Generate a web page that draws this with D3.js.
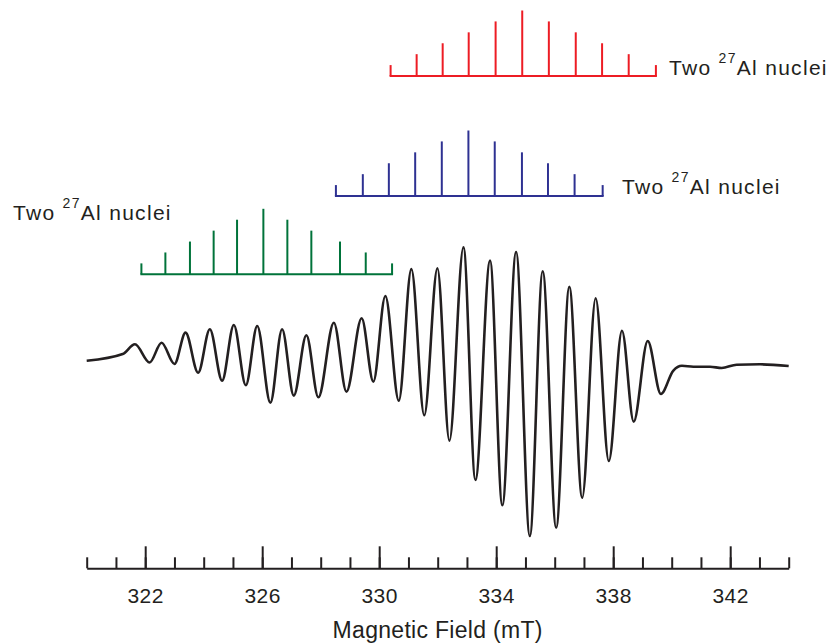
<!DOCTYPE html>
<html>
<head>
<meta charset="utf-8">
<script src="https://cdnjs.cloudflare.com/ajax/libs/d3/7.8.5/d3.min.js"></script>
<style>
  body { margin: 0; background: #fff; }
  text { font-family: "Liberation Sans", Arial, sans-serif; fill: #231f20; }
</style>
</head>
<body>
<div id="chart"></div>
<script>
// EPR spectrum: field (mT) and derivative signal (arb. units)
var specField = [320.00, 321.23, 321.65, 322.15, 322.56, 323.00, 323.38, 323.81, 324.21, 324.63,
                 325.03, 325.44, 325.83, 326.28, 326.68, 327.08, 327.51, 327.92, 328.45, 328.88,
                 329.40, 329.80, 330.21, 330.67, 331.10, 331.54, 331.99, 332.40, 332.88, 333.29,
                 333.79, 334.21, 334.68, 335.15, 335.59, 336.05, 336.50, 336.94, 337.40, 337.85,
                 338.30, 338.70, 339.18, 339.63, 340.05, 340.35, 340.74, 341.31, 341.71, 342.22, 343.02, 344.00];
var specSignal = [4.4, 10.0, 18.1, 2.9, 19.4, 1.7, 27.8, -5.6, 30.6, -12.2,
                  34.2, -16.1, 33.3, -30.6, 30.6, -24.7, 25.6, -26.1, 36.1, -21.4,
                  39.8, -13.1, 58.3, -28.9, 80.7, -41.1, 81.5, -62.3, 98.9, -95.0,
                  87.8, -116.1, 95.0, -141.7, 78.9, -134.8, 66.1, -109.8, 56.4, -79.2,
                  29.4, -46.4, 20.8, -23.3, -4.0, 0.2, -0.6, -0.6, -1.7, 1.1, 1.4, 0];

// hyperfine stick patterns (two 27Al nuclei, I = 5/2)
var hfIntensity = [1, 2, 3, 4, 5, 6, 5, 4, 3, 2, 1];
var redLines   = [330.39, 331.28, 332.17, 333.06, 333.98, 334.89, 335.80, 336.72, 337.62, 338.53, 339.46];
var blueLines  = [328.52, 329.44, 330.33, 331.23, 332.14, 333.05, 333.95, 334.88, 335.77, 336.68, 337.64];
var greenLines = [321.87, 322.69, 323.53, 324.34, 325.14, 326.04, 326.86, 327.68, 328.66, 329.54, 330.44];

var minorTicks = d3.range(320, 345, 1);
var majorTicks = [322, 326, 330, 334, 338, 342];
var labelMain = "Two ", labelSup = "27", labelEnd = "Al nuclei";
var axisTitle = "Magnetic Field (mT)";

var width = 831, height = 643;
var ink = "#231f20";

var svg = d3.select("#chart").append("svg")
    .attr("width", width)
    .attr("height", height);

var x = d3.scaleLinear().domain([320, 344]).range([86.7, 788.7]);
var y = d3.scaleLinear().domain([-100, 100]).range([486, 246]);
var stickH = d3.scaleLinear().domain([0, 6]).range([0, 65.5]);

// spectrum
var line = d3.line()
    .x(function(d, i) { return x(specField[i]); })
    .y(function(d) { return y(d); })
    .curve(d3.curveMonotoneX);

svg.append("path")
    .datum(specSignal)
    .attr("d", line)
    .attr("fill", "none")
    .attr("stroke", ink)
    .attr("stroke-width", 2.6)
    .attr("stroke-linejoin", "round");

// stick diagrams
var groups = [
    {lines: redLines,   color: "#ed1c24", base: 76,    lx: 669, ly: 75},
    {lines: blueLines,  color: "#2e3192", base: 196,   lx: 622, ly: 194},
    {lines: greenLines, color: "#00733a", base: 274.3, lx: 13,  ly: 220}
];

groups.forEach(function(g) {
    var gg = svg.append("g");
    gg.append("line")
        .attr("x1", x(g.lines[0]) - 1)
        .attr("x2", x(g.lines[g.lines.length - 1]) + 1)
        .attr("y1", g.base).attr("y2", g.base)
        .attr("stroke", g.color).attr("stroke-width", 2);
    gg.selectAll("line.stick")
        .data(hfIntensity)
        .enter().append("line")
        .attr("class", "stick")
        .attr("x1", function(d, i) { return x(g.lines[i]); })
        .attr("x2", function(d, i) { return x(g.lines[i]); })
        .attr("y1", g.base)
        .attr("y2", function(d) { return g.base - stickH(d); })
        .attr("stroke", g.color).attr("stroke-width", 2);

    var t = svg.append("text")
        .attr("x", g.lx).attr("y", g.ly)
        .style("font-size", "21px")
        .style("letter-spacing", "1.3px");
    t.append("tspan").text(labelMain);
    t.append("tspan").text(labelSup).style("font-size", "14px").attr("dy", -12);
    t.append("tspan").text(labelEnd).attr("dy", 12);
});

// axis
var axisY = 568.3;
var minorAxis = d3.axisBottom(x)
    .tickValues(minorTicks)
    .tickSizeInner(-11)
    .tickSizeOuter(0)
    .tickFormat("");
var majorAxis = d3.axisBottom(x)
    .tickValues(majorTicks)
    .tickSizeInner(-22)
    .tickSizeOuter(0)
    .tickPadding(20)
    .tickFormat(d3.format("d"));

var ga = svg.append("g").attr("transform", "translate(0," + axisY + ")").call(minorAxis);
var gb = svg.append("g").attr("transform", "translate(0," + axisY + ")").call(majorAxis);
gb.select(".domain").remove();
[ga, gb].forEach(function(a) {
    a.selectAll("path, line").attr("stroke", ink).attr("stroke-width", 2);
    a.selectAll("text")
        .attr("fill", ink)
        .style("font-family", '"Liberation Sans", Arial, sans-serif')
        .style("font-size", "21px")
        .style("letter-spacing", "0.5px");
});

svg.append("text")
    .attr("x", x(332))
    .attr("y", 638)
    .attr("text-anchor", "middle")
    .style("font-size", "23px")
    .style("letter-spacing", "0.3px")
    .text(axisTitle);
</script>
</body>
</html>
